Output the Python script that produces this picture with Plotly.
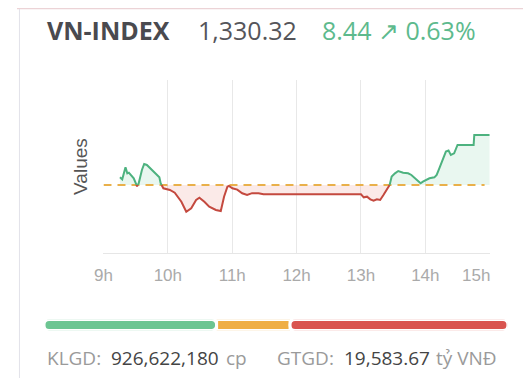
import plotly.graph_objects as go

# ---------------- data ----------------
INDEX_NAME = "VN-INDEX"
LAST_VALUE = 1330.32
CHANGE = 8.44
CHANGE_PCT = 0.63
REF_VALUE = 1321.88  # previous close (LAST_VALUE - CHANGE)

TIMES = [9.256, 9.291, 9.342, 9.370, 9.394, 9.418, 9.470, 9.521, 9.547, 9.597,
         9.632, 9.674, 9.724, 9.801, 9.868, 9.888, 9.930, 10.031, 10.107, 10.210,
         10.286, 10.363, 10.439, 10.490, 10.567, 10.643, 10.746, 10.822, 10.873, 10.925,
         10.949, 11.002, 11.078, 11.155, 11.231, 11.308, 11.409, 11.485, 11.500,
         13.000, 13.043, 13.094, 13.145, 13.196, 13.247, 13.298, 13.349, 13.400, 13.441,
         13.477, 13.528, 13.579, 13.655, 13.732, 13.783, 13.834, 13.885, 13.926, 13.962,
         14.064, 14.140, 14.176, 14.217, 14.268, 14.319, 14.360, 14.396, 14.447, 14.500,
         14.750, 14.760, 15.000]
VALUES = [1323.18, 1322.84, 1324.87, 1323.85, 1323.96, 1323.60, 1323.01, 1321.65, 1322.17, 1324.41,
          1325.42, 1325.26, 1324.70, 1323.85, 1323.18, 1322.17, 1321.32, 1321.04, 1320.58, 1319.06,
          1317.37, 1317.95, 1319.35, 1319.74, 1319.06, 1318.22, 1317.66, 1317.49, 1319.91, 1321.59,
          1321.71, 1321.32, 1321.10, 1320.48, 1320.19, 1320.50, 1320.48, 1320.30, 1320.30,
          1320.30, 1319.80, 1319.91, 1319.46, 1319.23, 1319.46, 1319.35, 1320.19, 1321.04, 1321.71,
          1323.29, 1323.85, 1324.24, 1323.96, 1323.85, 1323.57, 1323.01, 1322.44, 1322.16, 1322.44,
          1323.01, 1323.17, 1323.57, 1324.69, 1326.10, 1327.51, 1327.68, 1326.94, 1327.23, 1328.63,
          1328.63, 1330.32, 1330.32]

TICK_VALUES = [9, 10, 11, 12, 13, 14, 15]
TICK_LABELS = ["9h", "10h", "11h", "12h", "13h", "14h", "15h"]
LAST_LABEL_POS = 14.78

BREADTH_LABELS = ["Tăng", "Đứng giá", "Giảm"]
BREADTH = [141, 60, 178]

KLGD = "926,622,180"
GTGD = "19,583.67"

# ---------------- styling ----------------
PAGE_OFFSET = 8          # default body margin of the html page
W, H = 531 - PAGE_OFFSET, 378 - PAGE_OFFSET
GREEN = "#4db27f"
RED = "#c4493f"
GREEN_FILL = "rgba(77,190,130,0.12)"
RED_FILL = "rgba(225,90,80,0.13)"
REF_COLOR = "#e9b04a"
BAR_COLORS = ["#6cc592", "#efae45", "#d9544f"]
HEAD_FONT = "Open Sans"
AXIS_FONT = "Liberation Sans"


def px_x(x):
    return (x - PAGE_OFFSET) / W


def px_y(y):
    return 1 - (y - PAGE_OFFSET) / H


# insert crossing points with reference line
t2, v2 = [], []
for i in range(len(TIMES)):
    t2.append(TIMES[i])
    v2.append(VALUES[i])
    if i < len(TIMES) - 1:
        a, b = VALUES[i] - REF_VALUE, VALUES[i + 1] - REF_VALUE
        if a * b < 0:
            tc = TIMES[i] + (REF_VALUE - VALUES[i]) * (TIMES[i + 1] - TIMES[i]) / (VALUES[i + 1] - VALUES[i])
            t2.append(tc)
            v2.append(REF_VALUE)

ref_arr = [REF_VALUE] * len(t2)
upper = [max(v, REF_VALUE) for v in v2]
lower = [min(v, REF_VALUE) for v in v2]
green_line = [v if v >= REF_VALUE else None for v in v2]
red_line = [v if v <= REF_VALUE else None for v in v2]

fig = go.Figure()
fig.add_trace(go.Scatter(x=t2, y=ref_arr, mode="lines", line=dict(width=0), hoverinfo="skip", showlegend=False))
fig.add_trace(go.Scatter(x=t2, y=upper, mode="lines", line=dict(width=0), fill="tonexty",
                         fillcolor=GREEN_FILL, hoverinfo="skip", showlegend=False))
fig.add_trace(go.Scatter(x=t2, y=ref_arr, mode="lines", line=dict(width=0), hoverinfo="skip", showlegend=False))
fig.add_trace(go.Scatter(x=t2, y=lower, mode="lines", line=dict(width=0), fill="tonexty",
                         fillcolor=RED_FILL, hoverinfo="skip", showlegend=False))
fig.add_trace(go.Scatter(x=[TICK_VALUES[0], TICK_VALUES[-1] - 0.08], y=[REF_VALUE, REF_VALUE], mode="lines",
                         line=dict(color=REF_COLOR, width=2, dash="8px,6px"), showlegend=False))
fig.add_trace(go.Scatter(x=t2, y=red_line, mode="lines", line=dict(color=RED, width=2),
                         connectgaps=False, showlegend=False))
fig.add_trace(go.Scatter(x=t2, y=green_line, mode="lines", line=dict(color=GREEN, width=2),
                         connectgaps=False, showlegend=False))

# market breadth bar
adv, unch, dec = BREADTH
fig.add_trace(go.Bar(x=[-adv], y=[0], base=[adv], orientation="h", width=1,
                     marker=dict(color=BAR_COLORS[0], cornerradius=5, line=dict(color="white", width=3)),
                     xaxis="x3", yaxis="y3", name=BREADTH_LABELS[0], showlegend=False))
fig.add_trace(go.Bar(x=[unch], y=[0], base=[adv], orientation="h", width=1,
                     marker=dict(color=BAR_COLORS[1], line=dict(color="white", width=3)),
                     xaxis="x3", yaxis="y3", name=BREADTH_LABELS[1], showlegend=False))
fig.add_trace(go.Bar(x=[dec], y=[0], base=[adv + unch], orientation="h", width=1,
                     marker=dict(color=BAR_COLORS[2], cornerradius=5, line=dict(color="white", width=3)),
                     xaxis="x3", yaxis="y3", name=BREADTH_LABELS[2], showlegend=False))

ticktext = TICK_LABELS[:-1] + [""]

fig.update_layout(
    width=W, height=H,
    margin=dict(l=0, r=0, t=0, b=0),
    paper_bgcolor="white", plot_bgcolor="white",
    barmode="overlay",
    xaxis=dict(domain=[px_x(96), px_x(489)], range=[9, 15], tickvals=TICK_VALUES, ticktext=ticktext,
               showgrid=True, gridcolor="#e8e8e8", gridwidth=1, zeroline=False,
               showline=True, linecolor="#e6e6e6", linewidth=1, ticks="", ticklabelstandoff=7,
               tickfont=dict(family=AXIS_FONT, size=17, color="#aaaaaa"), fixedrange=True),
    yaxis=dict(domain=[px_y(253), px_y(80)], range=[1310.4, 1339.6], showticklabels=False,
               showgrid=False, zeroline=False, showline=False, ticks=""),
    xaxis3=dict(domain=[px_x(35.5), px_x(507.5)], range=[0, adv + unch + dec], visible=False,
                anchor="y3"),
    yaxis3=dict(domain=[px_y(330.5), px_y(319.5)], range=[-0.5, 0.5], visible=False, anchor="x3"),
)

# y axis title
fig.add_annotation(x=px_x(72), y=px_y(166), xref="paper", yref="paper", text="Values", textangle=-90,
                   showarrow=False, xanchor="center", yanchor="middle",
                   font=dict(family=AXIS_FONT, size=19, color="#555555"))

# last tick label shifted inside the plot edge
fig.add_annotation(x=LAST_LABEL_POS, y=px_y(275), xref="x", yref="paper", text=TICK_LABELS[-1],
                   showarrow=False, font=dict(family=AXIS_FONT, size=17, color="#aaaaaa"),
                   xanchor="center", yanchor="middle")

# header
fig.add_annotation(x=px_x(36), y=px_y(30), xref="paper", yref="paper", text="<b>%s</b>" % INDEX_NAME,
                   showarrow=False, xanchor="left", yanchor="middle",
                   font=dict(family=HEAD_FONT, size=25, color="#4a4a4f"))
fig.add_annotation(x=px_x(190), y=px_y(30), xref="paper", yref="paper", text=f"{LAST_VALUE:,.2f}",
                   showarrow=False, xanchor="left", yanchor="middle",
                   font=dict(family=HEAD_FONT, size=25, color="#55555a"))
fig.add_annotation(x=px_x(316), y=px_y(30), xref="paper", yref="paper",
                   text=f"{CHANGE:.2f} ↗ {CHANGE_PCT:.2f}%",
                   showarrow=False, xanchor="left", yanchor="middle",
                   font=dict(family=HEAD_FONT, size=25, color="#5dba8d"))

# footer
foot = [(36, "KLGD:", "#9a9a9a"), (102, KLGD, "#444444"), (219, "cp", "#9a9a9a"),
        (271, "GTGD:", "#9a9a9a"), (339, GTGD, "#444444"), (432, "tỷ VNĐ", "#9a9a9a")]
for xp, txt, col in foot:
    fig.add_annotation(x=px_x(xp), y=px_y(358), xref="paper", yref="paper", text=txt,
                       showarrow=False, xanchor="left", yanchor="middle",
                       font=dict(family=HEAD_FONT, size=19, color=col))

# card borders
fig.add_shape(type="line", xref="paper", yref="paper", x0=0, x1=1, y0=px_y(8.5), y1=px_y(8.5),
              line=dict(color="#ecd3d6", width=1.5))
fig.add_shape(type="line", xref="paper", yref="paper", x0=px_x(10.5), x1=px_x(10.5), y0=0, y1=px_y(9),
              line=dict(color="#e2e2ea", width=1))

fig.write_html("out.html")
